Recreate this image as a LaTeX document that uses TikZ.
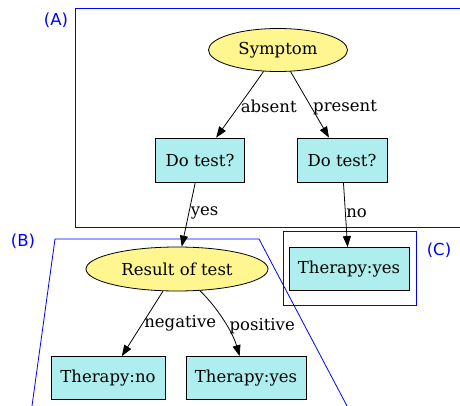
\documentclass[tikz,border=0pt]{standalone}
\usepackage{fontspec}
\setmainfont{DejaVu Serif}
\newfontfamily\clusterfont{DejaVu Sans}
\usetikzlibrary{arrows.meta,shapes.geometric}
\definecolor{khakione}{HTML}{FFF68F}
\definecolor{paleturq}{HTML}{AFEEEE}
\definecolor{clusterblue}{HTML}{0000FF}
\tikzset{
  txt/.style={font=\fontsize{16.5}{19}\selectfont},
  chance/.style={txt, ellipse, draw=black, fill=khakione, line width=0.8pt, inner sep=0pt},
  decision/.style={txt, rectangle, draw=black, fill=paleturq, line width=0.8pt, inner sep=0pt},
  link/.style={draw=black, line width=0.8pt, -{Triangle[length=11pt,width=8pt]}},
  elabel/.style={txt, inner sep=1.5pt, anchor=west},
  frame/.style={draw=clusterblue, line width=0.8pt},
  tag/.style={text=clusterblue, font=\clusterfont\fontsize{16.5}{19}\selectfont, inner sep=0pt}
}
\begin{document}
\begin{tikzpicture}[x=1pt,y=-1pt]
\useasboundingbox (0,0) rectangle (460,406);
% cluster frames
\draw[frame] (460,8) -- (75,8) -- (75,227) -- (460,227);
\draw[frame] (32,406) -- (55,239) -- (259,239) -- (347,406);
\draw[frame] (283,231) rectangle (416,305);
\node[tag] (tagA) at (56,20) {(A)};
\node[tag] (tagB) at (23,241) {(B)};
\node[tag] (tagC) at (439,250) {(C)};
% nodes
\node[chance, minimum width=139pt, minimum height=43pt] (sym) at (278,50) {Symptom};
\node[decision, minimum width=89pt, minimum height=44pt] (dtl) at (200,160) {Do test?};
\node[decision, minimum width=90pt, minimum height=44pt] (dtr) at (342,160) {Do test?};
\node[chance, minimum width=182pt, minimum height=44pt] (res) at (177,269) {Result of test};
\node[decision, minimum width=120pt, minimum height=43pt] (tyc) at (349,269) {Therapy:yes};
\node[decision, minimum width=114pt, minimum height=43pt] (tno) at (108,378) {Therapy:no};
\node[decision, minimum width=120pt, minimum height=43pt] (tyb) at (246,378) {Therapy:yes};
% edges
\draw[link] (sym) .. controls (255,84) and (236,110) .. node[elabel, pos=0.6] {absent} (dtl);
\draw[link] (sym) -- node[elabel, pos=0.54] {present} (dtr);
\draw[link] (dtl) -- node[elabel, pos=0.47] {yes} (res);
\draw[link] (dtr) -- node[elabel, pos=0.47, inner sep=0.5pt] {no} (tyc);
\draw[link] (res) -- node[elabel, pos=0.5] {negative} (tno);
\draw[link] (res) .. controls (215,305) and (232,330) .. node[elabel, pos=0.6, inner sep=2.5pt] {positive} (tyb);
\end{tikzpicture}
\end{document}
